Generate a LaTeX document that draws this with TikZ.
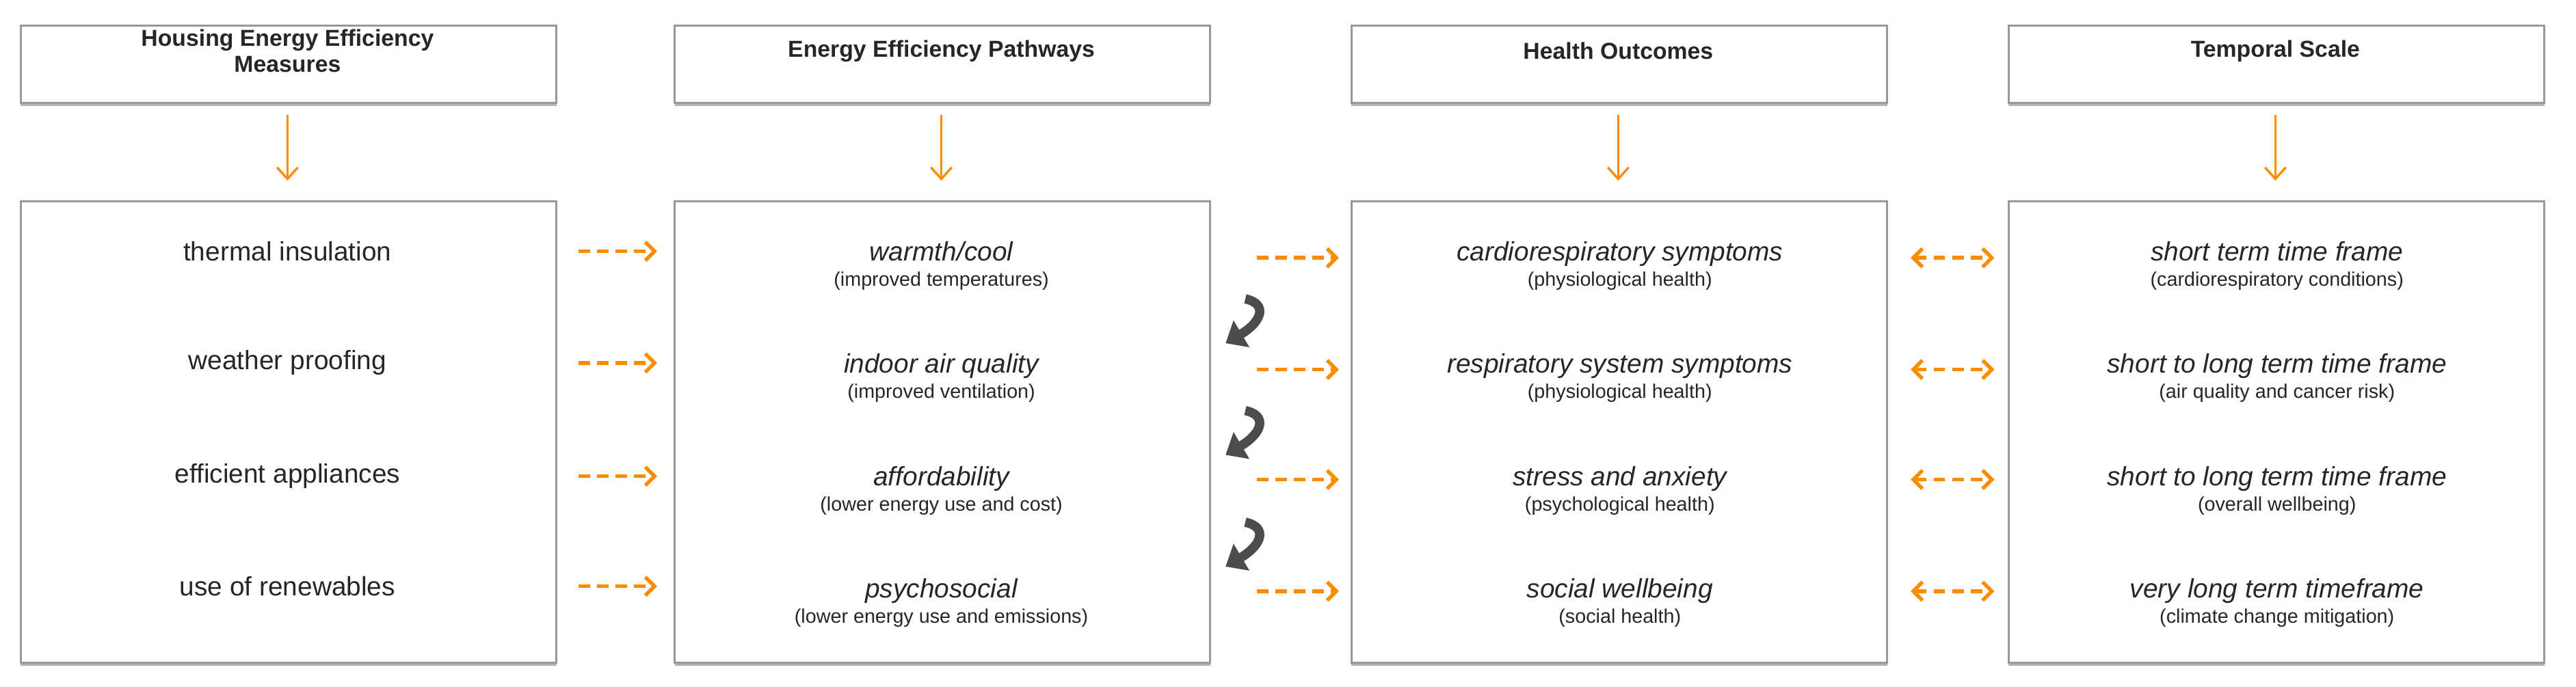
\documentclass[tikz,border=0pt]{standalone}
\usepackage{fontspec}
\setmainfont{Liberation Sans}
\usetikzlibrary{arrows.meta,shadows}
\definecolor{org}{RGB}{255,140,0}
\newcommand{\subtxt}{\fontsize{8.5}{10}\selectfont\upshape}
\begin{document}
\begin{tikzpicture}[x=0.025cm,y=-0.025cm,
  box/.style={draw=gray!80,line width=0.9pt,fill=white,drop shadow={shadow xshift=0pt,shadow yshift=-1.2pt,fill=gray!60,opacity=1}},
  hdr/.style={font=\fontsize{10}{11}\selectfont\bfseries,align=center,text=black!85},
  txt/.style={align=center,font=\fontsize{11.5}{13}\selectfont,text=black!85},
  down/.style={draw=org,line width=1pt,-{Straight Barb[length=5pt,width=9pt]}},
  darr/.style={draw=org,line width=1.6pt,dash pattern=on 5pt off 3pt,-{Straight Barb[length=4pt,width=8pt]}},
  ddarr/.style={draw=org,line width=1.6pt,dash pattern=on 5pt off 3pt,{Straight Barb[length=4pt,width=8pt]}-{Straight Barb[length=4pt,width=8pt]}},
  curv/.style={draw=black!70,line width=4pt,-{Triangle[length=8pt,width=13pt]}}]
\useasboundingbox (0,0) rectangle (1568,418);
\foreach \i/\x/\t in {1/12/{Housing Energy Efficiency\\Measures},2/410/{Energy Efficiency Pathways},3/822/{Health Outcomes},4/1222/{Temporal Scale}}{
  \node[box,minimum width=326*0.025cm,minimum height=47*0.025cm,anchor=north west,inner sep=0pt] (h\i) at (\x,15) {};
  \node[hdr] (ht\i) at (\x+163,31) {\t};
  \node[box,minimum width=326*0.025cm,minimum height=281*0.025cm,anchor=north west,inner sep=0pt] (b\i) at (\x,122) {};
  \coordinate (a\i) at (\x+163,70);
  \coordinate (e\i) at (\x+163,110);
  \draw[down] (a\i) -- (e\i);
}
% column 1
\node[txt] (c11) at (175,153) {thermal insulation};
\node[txt] (c12) at (175,221) {weather proofing};
\node[txt] (c13) at (175,290) {efficient appliances};
\node[txt] (c14) at (175,357) {use of renewables};
% column 2
\node[txt] (c21) at (573,162) {\itshape warmth/cool\\[-2pt]\subtxt (improved temperatures)};
\node[txt] (c22) at (573,230) {\itshape indoor air quality\\[-2pt]\subtxt (improved ventilation)};
\node[txt] (c23) at (573,299) {\itshape affordability\\[-2pt]\subtxt (lower energy use and cost)};
\node[txt] (c24) at (573,367) {\itshape psychosocial\\[-2pt]\subtxt (lower energy use and emissions)};
% column 3
\node[txt] (c31) at (986,162) {\itshape cardiorespiratory symptoms\\[-2pt]\subtxt (physiological health)};
\node[txt] (c32) at (986,230) {\itshape respiratory system symptoms\\[-2pt]\subtxt (physiological health)};
\node[txt] (c33) at (986,299) {\itshape stress and anxiety\\[-2pt]\subtxt (psychological health)};
\node[txt] (c34) at (986,367) {\itshape social wellbeing\\[-2pt]\subtxt (social health)};
% column 4
\node[txt] (c41) at (1386,162) {\itshape short term time frame\\[-2pt]\subtxt (cardiorespiratory conditions)};
\node[txt] (c42) at (1386,230) {\itshape short to long term time frame\\[-2pt]\subtxt (air quality and cancer risk)};
\node[txt] (c43) at (1386,299) {\itshape short to long term time frame\\[-2pt]\subtxt (overall wellbeing)};
\node[txt] (c44) at (1386,367) {\itshape very long term timeframe\\[-2pt]\subtxt (climate change mitigation)};
% dashed arrows
\foreach \y [count=\k] in {153,221,290,357}{
  \coordinate (p\k) at (352,\y); \coordinate (q\k) at (400,\y);
  \draw[darr] (p\k) -- (q\k);
}
\foreach \y [count=\k] in {157,225,292,360}{
  \coordinate (r\k) at (765,\y); \coordinate (s\k) at (815,\y);
  \draw[darr] (r\k) -- (s\k);
  \coordinate (u\k) at (1163,\y); \coordinate (v\k) at (1214,\y);
  \draw[ddarr] (u\k) -- (v\k);
}
% curved arrows
\foreach \y [count=\k] in {182,250,318}{
  \coordinate (m\k) at (758,\y); \coordinate (n\k) at (746,\y+27);
  \draw[curv] (m\k) .. controls (772,\y+3) and (768,\y+14) .. (n\k);
}
\end{tikzpicture}
\end{document}
